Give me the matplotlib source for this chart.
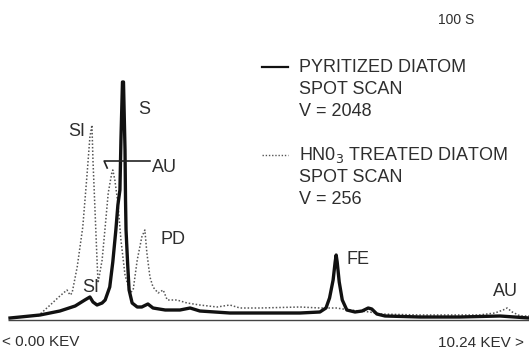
import matplotlib
matplotlib.use("Agg")
import matplotlib.pyplot as plt

# ---- data (energy in keV, intensity in arbitrary units) ----
pyritized_kev = [0.04, 0.24, 0.63, 1.02, 1.32, 1.51, 1.61, 1.67, 1.75, 1.85, 1.91,
                 2.00, 2.06, 2.12, 2.16, 2.20, 2.22, 2.25, 2.27, 2.30, 2.31, 2.32,
                 2.35, 2.38, 2.44, 2.54, 2.63, 2.75, 2.85, 3.09, 3.38, 3.58, 3.77,
                 4.36, 4.95, 5.74, 6.13, 6.25, 6.32, 6.39, 6.43, 6.45, 6.47, 6.51,
                 6.57, 6.66, 6.82, 6.96, 7.08, 7.15, 7.25, 7.41, 8.10, 8.88, 9.67, 10.24]
pyritized_cnt = [2, 3, 5, 9, 14, 20, 23, 18, 15, 17, 20,
                 33, 58, 90, 115, 130, 180, 238, 238, 170, 120, 90,
                 58, 30, 17, 13, 13, 16, 12, 10, 10, 12, 9,
                 7, 7, 7, 8, 12, 22, 40, 58, 65, 58, 38,
                 20, 10, 8, 9, 12, 11, 6, 4, 3, 3, 4, 2]

treated_kev = [0.59, 0.83, 1.02, 1.16, 1.22, 1.26, 1.36, 1.47, 1.55, 1.61, 1.65,
               1.67, 1.71, 1.75, 1.77, 1.85, 1.91, 1.97, 2.04, 2.06, 2.10, 2.16,
               2.22, 2.30, 2.40, 2.46, 2.54, 2.63, 2.69, 2.73, 2.79, 2.85, 2.95,
               3.05, 3.13, 3.18, 3.32, 3.52, 3.77, 4.11, 4.36, 4.56, 4.95, 5.74,
               6.13, 6.45, 6.72, 7.11, 7.31, 8.10, 9.26, 9.57, 9.73, 9.81, 9.91,
               10.07, 10.24]
treated_cnt = [4, 15, 24, 30, 25, 27, 53, 93, 143, 183, 195,
               160, 110, 60, 37, 60, 93, 127, 147, 150, 140, 117,
               80, 45, 27, 30, 60, 83, 90, 67, 43, 33, 27,
               30, 20, 20, 20, 17, 15, 13, 15, 12, 12, 13,
               12, 12, 10, 8, 6, 5, 5, 7, 10, 12, 8, 4, 4]

legend_lines = [("PYRITIZED DIATOM", "SPOT SCAN", "V = 2048"),
                ("HN0$_3$ TREATED DIATOM", "SPOT SCAN", "V = 256")]
peak_labels = [("S", 2.55, 211), ("SI", 1.18, 188), ("PD", 2.99, 80),
               ("SI", 1.45, 32), ("FE", 6.66, 60), ("AU", 9.53, 28)]

# ---- figure ----
plt.rcParams['font.family'] = ['Liberation Sans', 'DejaVu Sans']
fig = plt.figure(figsize=(5.29, 3.56), dpi=100)
ax = fig.add_axes([0, 0, 1, 1])
ax.set_xlim(-0.157, 10.24)
ax.set_ylim(-36, 320)
ax.axis('off')

txt = '#2e2e2e'
# baseline
ax.plot([0, 10.24], [0, 0], color='#444444', lw=1.0, solid_capstyle='butt')

ax.plot(treated_kev, treated_cnt, color='#555555', lw=1.1,
        linestyle=(0, (1, 1.3)))
ax.plot(pyritized_kev, pyritized_cnt, color='#111111', lw=2.4,
        solid_joinstyle='round')

# AU marker line
ax.plot([1.95, 1.89, 2.79], [152, 159, 159], color='#222222', lw=1.2)
ax.text(2.83, 153, "AU", fontsize=13, color=txt, va='center', ha='left')

for lab, x, y in peak_labels:
    ax.text(x, y, lab, fontsize=13, color=txt, va='center', ha='left')

# legend
ax.plot([5.0, 5.5], [253, 253], color='#111111', lw=1.6)
ax.plot([5.0, 5.5], [165, 165], color='#555555', lw=1.0, linestyle=(0, (1, 1.3)))
ys = [(253, 230, 208), (165, 142, 120)]
for lines, yy in zip(legend_lines, ys):
    for t, y in zip(lines, yy):
        ax.text(5.72, y, t, fontsize=13, color=txt, va='center', ha='left')

ax.text(8.45, 300, "100 S", fontsize=10, color=txt, va='center', ha='left')
ax.text(-0.12, -22, "< 0.00 KEV", fontsize=11, color=txt, va='center', ha='left')
ax.text(10.14, -23, "10.24 KEV >", fontsize=11, color=txt, va='center', ha='right')

fig.savefig("out.png", dpi=100)
